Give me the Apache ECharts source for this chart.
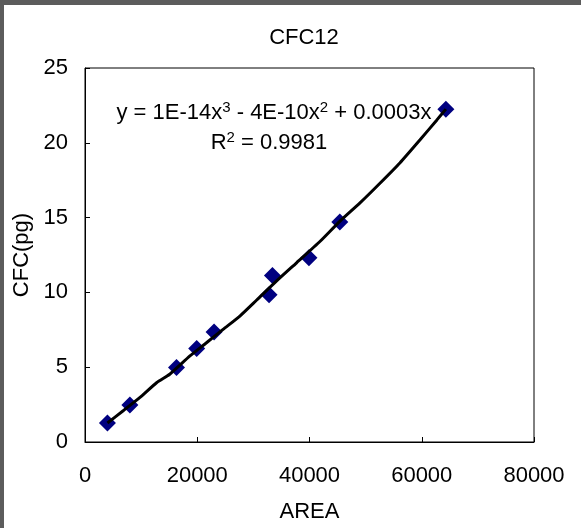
<!DOCTYPE html>
<html>
<head>
<meta charset="utf-8">
<script src="https://cdn.jsdelivr.net/npm/echarts@6/dist/echarts.min.js"></script>
<style>
html,body{margin:0;padding:0;background:#fff;}
#chart{width:581px;height:528px;}
</style>
</head>
<body>
<div id="chart"></div>
<script>
// Data
const areaValues = [4000, 8000, 16300, 19900, 23000, 32800, 33400, 39900, 45400, 64300];
const cfcValues = [1.27, 2.47, 4.98, 6.25, 7.35, 9.85, 11.13, 12.31, 14.71, 22.25];
// Trend line
const trendX = [4000, 6800, 9800, 12800, 15100, 18700, 21700, 24600, 27600, 30600, 34100, 37700, 41900, 45400, 49000, 52600, 56100, 59700, 62700, 64300];
const trendY = [1.27, 2.09, 2.98, 3.98, 4.53, 5.75, 6.65, 7.53, 8.42, 9.49, 10.75, 11.98, 13.42, 14.75, 15.98, 17.31, 18.65, 20.2, 21.53, 22.25];
const xTicks = [0, 20000, 40000, 60000, 80000];
const yTicks = [0, 5, 10, 15, 20, 25];
const titleText = 'CFC12';
const xName = 'AREA';
const yName = 'CFC(pg)';
const eqRich = '{a|y = 1E-14x}{s|3}{a| - 4E-10x}{s|2}{a| + 0.0003x}';
const r2Rich = '{a|R}{s|2}{a| = 0.9981}';

const FONT = 'Liberation Sans, Arial, sans-serif';
const FS = 22;
const chart = echarts.init(document.getElementById('chart'));
const scatterData = areaValues.map((v, i) => [v, cfcValues[i]]);
const trendData = trendX.map((v, i) => [v, trendY[i]]);
const richStyle = {
  a: {fontFamily: FONT, fontSize: FS, fill: '#000', lineHeight: 24, verticalAlign: 'bottom'},
  s: {fontFamily: FONT, fontSize: 15, fill: '#000', lineHeight: 24, verticalAlign: 'top'}
};

chart.setOption({
  animation: false,
  backgroundColor: '#fff',
  title: {
    text: titleText, left: 299, top: 22, textAlign: 'center',
    textStyle: {fontFamily: FONT, fontSize: FS, fontWeight: 'normal', color: '#000'}
  },
  grid: {left: 85, top: 68, right: 47, bottom: 85, show: true, borderColor: '#000', borderWidth: 1, backgroundColor: '#fff'},
  xAxis: {
    type: 'value', min: xTicks[0], max: xTicks[xTicks.length - 1], interval: 20000,
    name: xName, nameLocation: 'middle', nameGap: 59,
    nameTextStyle: {fontFamily: FONT, fontSize: FS, color: '#000'},
    axisLine: {lineStyle: {color: '#000', width: 1}},
    axisTick: {inside: true, length: 5, lineStyle: {color: '#000'}},
    axisLabel: {fontFamily: FONT, fontSize: FS, color: '#000', margin: 23, formatter: v => String(v)},
    splitLine: {show: false}
  },
  yAxis: {
    type: 'value', min: yTicks[0], max: yTicks[yTicks.length - 1], interval: 5,
    name: yName, nameLocation: 'middle', nameGap: 47, nameRotate: 90,
    nameTextStyle: {fontFamily: FONT, fontSize: FS, color: '#000'},
    axisLine: {lineStyle: {color: '#000', width: 1}},
    axisTick: {inside: true, length: 5, lineStyle: {color: '#000'}},
    axisLabel: {fontFamily: FONT, fontSize: FS, color: '#000', margin: 17},
    splitLine: {show: false}
  },
  series: [
    {
      type: 'scatter', data: scatterData, symbol: 'diamond', symbolSize: 17,
      itemStyle: {color: '#000080', opacity: 1}, z: 2
    },
    {
      type: 'line', data: trendData, showSymbol: false, smooth: 0.2,
      lineStyle: {color: '#000', width: 3}, z: 3
    }
  ],
  graphic: [
    {type: 'rect', left: 0, top: 0, z: 100, shape: {width: 581, height: 5}, style: {fill: '#5c5c5c'}},
    {type: 'rect', left: 0, top: 0, z: 100, shape: {width: 4, height: 528}, style: {fill: '#5c5c5c'}},
    {type: 'text', x: 274, y: 112, z: 50, style: {text: eqRich, rich: richStyle, align: 'center', verticalAlign: 'middle'}},
    {type: 'text', x: 269, y: 142, z: 50, style: {text: r2Rich, rich: richStyle, align: 'center', verticalAlign: 'middle'}}
  ]
});
</script>
</body>
</html>
